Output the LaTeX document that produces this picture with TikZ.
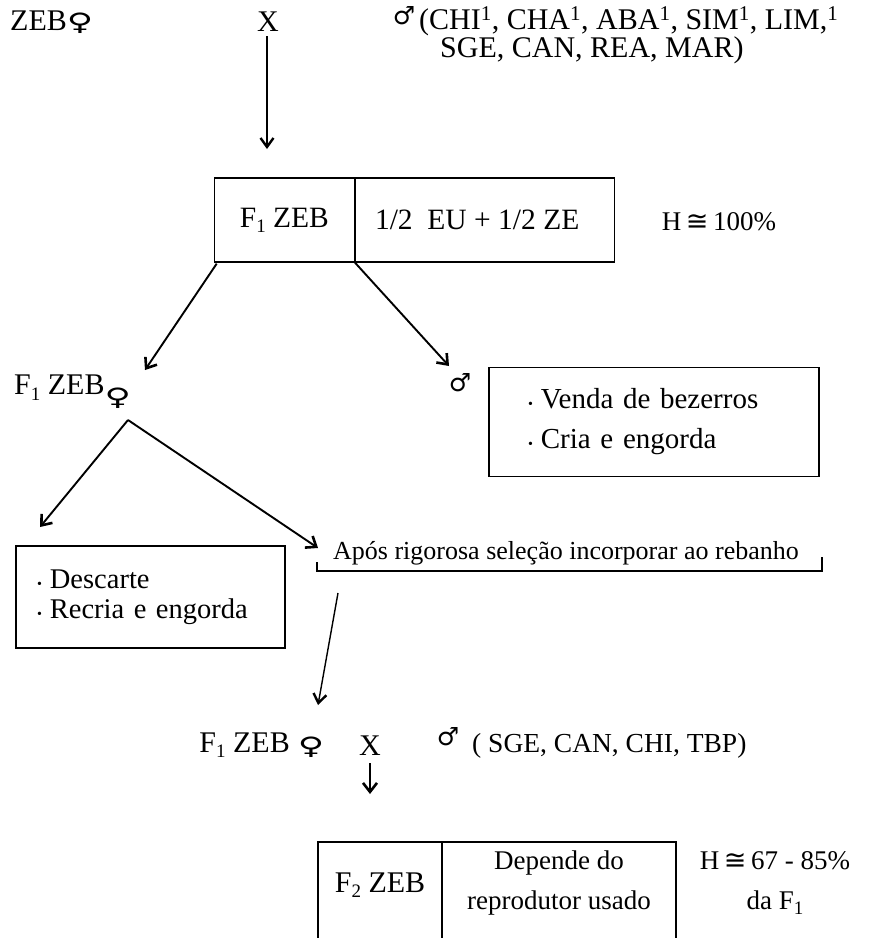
\documentclass[tikz,border=0pt]{standalone}
\usepackage{fontspec}
\setmainfont{Liberation Serif}
\newfontfamily\symfont{DejaVu Sans}
\usetikzlibrary{arrows.meta}
\newcommand{\fem}{{\symfont\fontsize{30}{30}\selectfont\scalebox{1.2}[0.8]{♀}}}
\newcommand{\mal}{{\symfont\fontsize{25}{25}\selectfont ♂}}
\newcommand{\mycong}{{\symfont ≅}}
\newcommand{\lowr}[1]{\raisebox{-0.38ex}{\fontsize{19}{19}\selectfont #1}}
\newcommand{\bul}{{\fontsize{14}{14}\selectfont\textbullet}\hspace{8pt}}
\begin{document}
\begin{tikzpicture}[x=1pt,y=-1pt,
  txt/.style={inner sep=0pt, font=\fontsize{30}{36}\selectfont},
  cell/.style={draw, line width=1.3pt, inner sep=0pt, minimum height=84pt, font=\fontsize{29.5}{36}\selectfont},
  listbox/.style={draw, line width=1.3pt, inner sep=0pt, align=left},
  arr/.style={line width=1.9pt, -{Straight Barb[length=9pt,width=14pt,line width=2.6pt]}},
  thinarr/.style={line width=1.4pt, -{Straight Barb[length=9pt,width=13pt,line width=2.4pt]}}]
\useasboundingbox (0,0) rectangle (891,938);
\fill[white] (0,0) rectangle (891,938);

% top line
\node[txt, anchor=west] (zeb) at (10,22) {ZEB\fem};
\node[txt] (x1) at (268,22) {X};
\node[txt] (m1) at (404,16) {\mal};
\node[txt, anchor=north west, align=left, font=\fontsize{30}{28}\selectfont] (l1) at (419,6)
  {(CHI\textsuperscript{1}, CHA\textsuperscript{1}, ABA\textsuperscript{1}, SIM\textsuperscript{1}, LIM,\textsuperscript{1}\\\hspace*{21pt}SGE, CAN, REA, MAR)};

% F1 box
\node[cell, minimum width=140pt, anchor=east] (c1) at (355,220) {F\lowr{1} ZEB};
\node[cell, minimum width=259pt, anchor=west] (c2) at (355,220) {1/2\ \ EU + 1/2 ZE\hspace*{16pt}};
\node[txt, font=\fontsize{27}{32}\selectfont] (h1) at (719,222) {H\,\mycong\,100\%};
\coordinate (x1s) at (267,36);
\coordinate (x1e) at (267,149);
\draw[thinarr] (x1s) -- (x1e);

% second level
\node[txt, anchor=west] (f1f) at (14,392) {F\lowr{1} ZEB\raisebox{-0.8ex}{\fem}};
\coordinate (t1) at (145,370);
\draw[arr] (c1.south west) ++(3,1) coordinate (s1) -- (t1);
\node[txt] (m2) at (460,383) {\mal};
\coordinate (t2) at (449,366);
\draw[arr] (c1.south east) -- (t2);
\node[listbox, minimum width=330pt, minimum height=109pt, text width=330pt, font=\fontsize{29}{40}\selectfont] (b1) at (654,422)
  {\hspace*{39pt}\bul Venda de bezerros\\\hspace*{39pt}\bul Cria e engorda};

% third level
\coordinate (fs) at (128,420);
\coordinate (t3) at (40,527);
\coordinate (t4) at (318,548);
\draw[arr] (fs) -- (t3);
\draw[arr] (fs) -- (t4);
\node[listbox, minimum width=269pt, minimum height=102pt, text width=269pt, font=\fontsize{28.5}{30}\selectfont] (b2) at (150.5,597)
  {\hspace*{21pt}\bul Descarte\\\hspace*{21pt}\bul Recria e engorda};

\node[txt, anchor=west, font=\fontsize{26}{30}\selectfont] (brk) at (333,553) {Após rigorosa seleção incorporar ao rebanho};
\draw[line width=1.3pt] (317,562) -- (317,571) -- (822,571) -- (822,557);
\coordinate (s5) at (338,593);
\coordinate (t5) at (318,705);
\draw[thinarr] (s5) -- (t5);

% bottom cross
\node[txt, anchor=east] (f1b) at (290,745) {F\lowr{1} ZEB};
\node[txt] (fb) at (311,747) {\fem};
\node[txt] (x2) at (370,746) {X};
\node[txt] (m3) at (448,737) {\mal};
\node[txt, anchor=west, font=\fontsize{27.5}{32}\selectfont] (l3) at (472,746) {( SGE, CAN, CHI, TBP)};
\coordinate (s6) at (370,763);
\coordinate (t6) at (370,794);
\draw[arr] (s6) -- (t6);

% F2 box (bottom edge cut off)
\draw[line width=1.3pt] (318,940) -- (318,842) -- (676,842) -- (676,940);
\draw[line width=1.3pt] (442,842) -- (442,940);
\node[txt] (f2) at (380,885) {F\lowr{2} ZEB};
\node[txt, align=center, font=\fontsize{27}{40}\selectfont] (dep) at (559,883) {Depende do\\reprodutor usado};
\node[txt, align=center, font=\fontsize{27}{40}\selectfont] (h2) at (775,883) {H\,\mycong\,67 - 85\%\\da F\lowr{1}};
\end{tikzpicture}
\end{document}
